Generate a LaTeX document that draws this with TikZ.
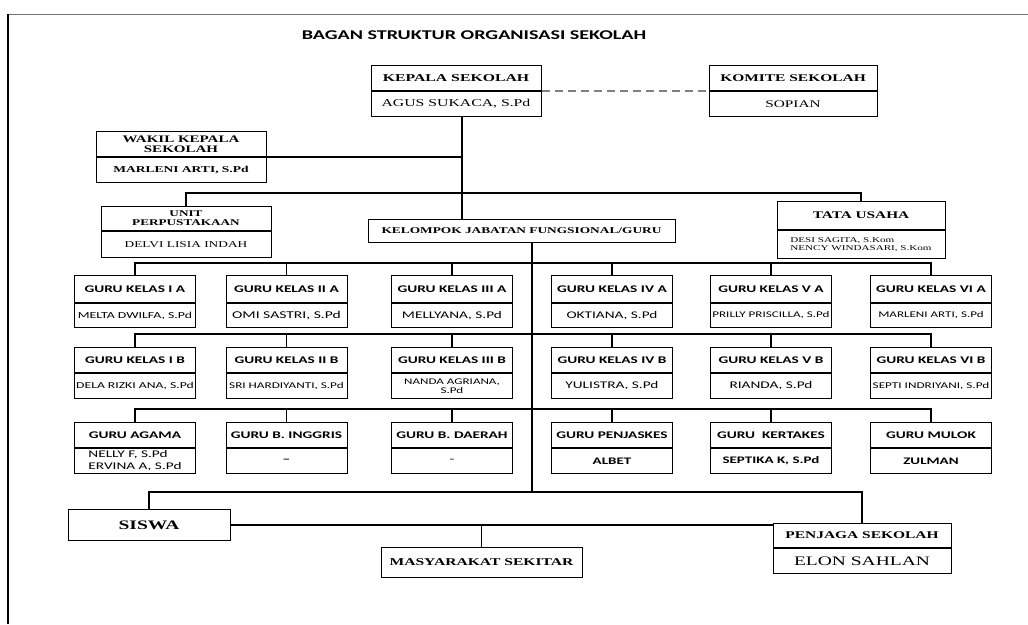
\documentclass[tikz,border=0pt]{standalone}
\usepackage{fontspec}
\setmainfont{Liberation Serif}[FakeStretch=1.5]
\newfontfamily\calb{Carlito}[FakeStretch=1.5]
\usepackage{tikz}
\usetikzlibrary{positioning}
\newcommand{\sz}[1]{\fontsize{#1}{#1}\selectfont}
\tikzset{
  jab/.style={draw, line width=1pt, inner sep=0pt, align=center, anchor=north, font=\bfseries\sz{10.5}},
  nama/.style={jab, font=\sz{10.5}},
  guru/.style={jab, minimum width=121, minimum height=25, font=\calb\bfseries\sz{10.2}},
  gnama/.style={guru, font=\calb\sz{10.2}},
  garis/.style={line width=1.2pt},
  batang/.style={line width=2.3pt},
}

\begin{document}
\begin{tikzpicture}[x=1pt, y=-1pt]
\useasboundingbox (0,0) rectangle (1028,624);
\draw[line width=1pt, black!55] (1028,14) -- (8,14);
\draw[line width=1.2pt] (8,14) -- (8,624);

\node[font=\calb\bfseries\sz{13.4}] (judul) at (474,35) {BAGAN STRUKTUR ORGANISASI SEKOLAH};

% pimpinan
\node[jab, minimum width=170, minimum height=25] (kep) at (456,65) {KEPALA SEKOLAH};
\node[nama, minimum width=170, minimum height=25, below=0pt of kep] (kepN) {AGUS SUKACA, S.Pd};
\node[jab, minimum width=168, minimum height=25, font=\bfseries\sz{10.3}] (kom) at (793,65) {KOMITE SEKOLAH};
\node[nama, minimum width=168, minimum height=25, below=0pt of kom, font=\sz{10.2}] (komN) {SOPIAN};
\node[jab, minimum width=170, minimum height=25, font=\bfseries\sz{10}] (wak) at (181,131) {WAKIL KEPALA\\SEKOLAH};
\node[jab, minimum width=170, minimum height=25, below=0pt of wak, font=\bfseries\sz{9}] (wakN) {MARLENI ARTI, S.Pd};
\node[jab, minimum width=170, minimum height=24, font=\bfseries\sz{8.8}] (upt) at (186,206) {UNIT\\PERPUSTAKAAN};
\node[nama, minimum width=170, minimum height=26, below=0pt of upt, font=\sz{8.9}] (uptN) {DELVI LISIA INDAH};
\node[jab, minimum width=307, minimum height=23, font=\bfseries\sz{8.9}] (kel) at (521.5,219) {KELOMPOK JABATAN FUNGSIONAL/GURU};
\node[jab, minimum width=168, minimum height=28, font=\bfseries\sz{10.2}] (tu) at (861,201) {TATA USAHA};
\node[nama, minimum width=168, minimum height=28, below=0pt of tu, font=\sz{7.4}, align=left] (tuN) {DESI SAGITA, S.Kom\\NENCY WINDASARI, S.Kom};

\coordinate (bt) at ([xshift=6]kepN.south);
\draw[batang] (bt) -- (bt |- kel.north);
\draw[garis] (wakN.north east) -- (wakN.north east -| bt);
\draw[garis] (upt.north) -- ++(0,-13) -| (tu.north);
\draw[line width=1.2pt, black!50, dash pattern=on 8pt off 5pt] (kepN.north east) -- (komN.north west);

% guru kelas A
\node[guru, minimum height=27] (g11) at (135,275) {GURU KELAS I A};
\node[gnama, minimum height=24, below=0pt of g11, font=\calb\sz{9.2}] (g11n) {MELTA DWILFA, S.Pd};
\node[guru, minimum height=27] (g12) at (286.5,275) {GURU KELAS II A};
\node[gnama, minimum height=24, below=0pt of g12, font=\calb\sz{10.4}] (g12n) {OMI SASTRI, S.Pd};
\node[guru, minimum height=27] (g13) at (452,275) {GURU KELAS III A};
\node[gnama, minimum height=24, below=0pt of g13] (g13n) {MELLYANA, S.Pd};
\node[guru, minimum height=27] (g14) at (612,275) {GURU KELAS IV A};
\node[gnama, minimum height=24, below=0pt of g14] (g14n) {OKTIANA, S.Pd};
\node[guru, minimum height=27] (g15) at (771,275) {GURU KELAS V A};
\node[gnama, minimum height=24, below=0pt of g15, font=\calb\sz{8.7}] (g15n) {PRILLY PRISCILLA, S.Pd};
\node[guru, minimum height=27] (g16) at (931,275) {GURU KELAS VI A};
\node[gnama, minimum height=24, below=0pt of g16, font=\calb\sz{8.7}] (g16n) {MARLENI ARTI, S.Pd};

% guru kelas B
\node[guru] (g21) at (135,347) {GURU KELAS I B};
\node[gnama, below=0pt of g21, font=\calb\sz{9.1}] (g21n) {DELA RIZKI ANA, S.Pd};
\node[guru] (g22) at (286.5,347) {GURU KELAS II B};
\node[gnama, below=0pt of g22, font=\calb\sz{8.8}] (g22n) {SRI HARDIYANTI, S.Pd};
\node[guru] (g23) at (452,347) {GURU KELAS III B};
\node[gnama, below=0pt of g23, font=\calb\sz{8.7}] (g23n) {NANDA AGRIANA,\\S.Pd};
\node[guru] (g24) at (612,347) {GURU KELAS IV B};
\node[gnama, below=0pt of g24] (g24n) {YULISTRA, S.Pd};
\node[guru] (g25) at (771,347) {GURU KELAS V B};
\node[gnama, below=0pt of g25] (g25n) {RIANDA, S.Pd};
\node[guru] (g26) at (931,347) {GURU KELAS VI B};
\node[gnama, below=0pt of g26, font=\calb\sz{8.8}] (g26n) {SEPTI INDRIYANI, S.Pd};

% guru bidang studi
\node[guru] (g31) at (135,422) {GURU AGAMA};
\node[gnama, below=0pt of g31, align=left] (g31n) {NELLY F, S.Pd\\[2pt]ERVINA A, S.Pd};
\node[guru] (g32) at (286.5,422) {GURU B. INGGRIS};
\node[gnama, below=0pt of g32, font=\calb\bfseries\sz{10.2}] (g32n) {–};
\node[guru] (g33) at (452,422) {GURU B. DAERAH};
\node[gnama, below=0pt of g33] (g33n) {-};
\node[guru] (g34) at (612,422) {GURU PENJASKES};
\node[gnama, below=0pt of g34, font=\calb\bfseries\sz{10}] (g34n) {ALBET};
\node[guru] (g35) at (771,422) {GURU~~KERTAKES};
\node[gnama, below=0pt of g35, font=\calb\bfseries\sz{10}] (g35n) {SEPTIKA K, S.Pd};
\node[guru] (g36) at (931,422) {GURU MULOK};
\node[gnama, below=0pt of g36, font=\calb\bfseries\sz{10}] (g36n) {ZULMAN};

\draw[garis] (g11.north) -- ++(0,-12) -| (g16.north);
\draw[garis] (g12.north) -- ++(0,-12) (g13.north) -- ++(0,-12) (g14.north) -- ++(0,-12) (g15.north) -- ++(0,-12);
\draw[garis] (g21.north) -- ++(0,-13) -| (g26.north);
\draw[garis] (g22.north) -- ++(0,-13) (g23.north) -- ++(0,-13) (g24.north) -- ++(0,-13) (g25.north) -- ++(0,-13);
\draw[garis] (g31.north) -- ++(0,-13) -| (g36.north);
\draw[garis] (g32.north) -- ++(0,-13) (g33.north) -- ++(0,-13) (g34.north) -- ++(0,-13) (g35.north) -- ++(0,-13);

% siswa dan masyarakat
\node[jab, minimum width=162, minimum height=31, font=\bfseries\sz{13}] (sis) at (149,509) {SISWA};
\node[jab, minimum width=201, minimum height=30, font=\bfseries\sz{10.4}] (mas) at (481.5,547) {MASYARAKAT SEKITAR};
\node[jab, minimum width=178, minimum height=24, font=\bfseries\sz{10.3}] (pen) at (862,523) {PENJAGA SEKOLAH};
\node[nama, minimum width=178, minimum height=25, below=0pt of pen, font=\sz{13}] (penN) {ELON SAHLAN};

\draw[garis] (sis.north) -- ++(0,-17) coordinate (ls) -| (pen.north);
\coordinate (bb) at ([xshift=10.5]kel.south);
\draw[batang] (bb) -- (bb |- ls);
\draw[garis] (sis.east) -- (sis.east -| pen.west);
\draw[garis] (mas.north) -- (mas.north |- sis.east);
\end{tikzpicture}
\end{document}
